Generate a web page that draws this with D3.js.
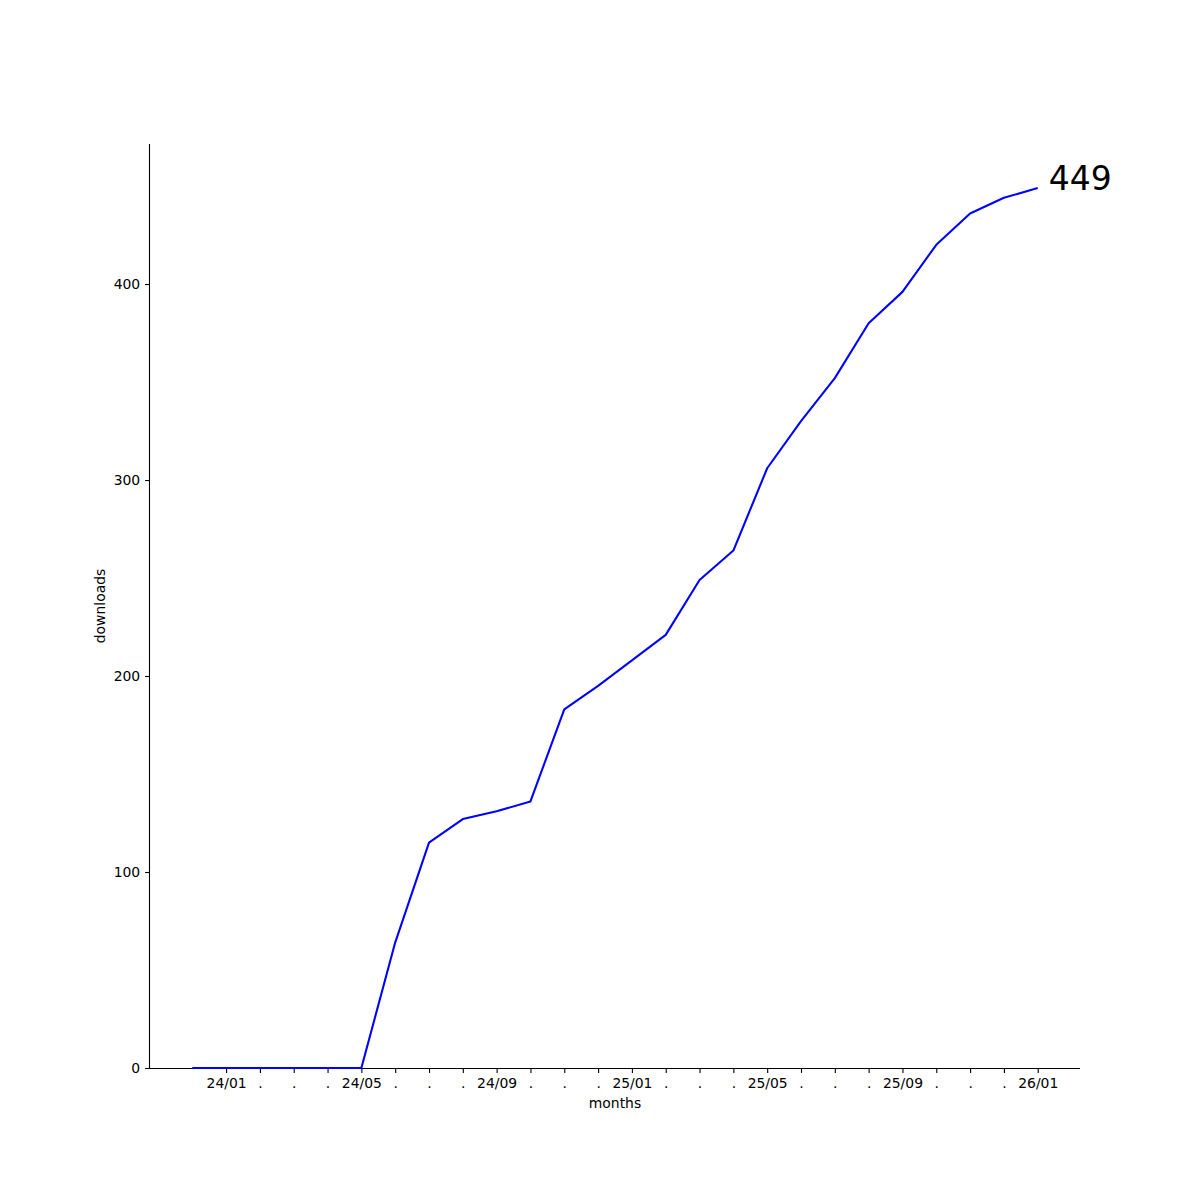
<!DOCTYPE html>
<html>
<head>
<meta charset="utf-8">
<script src="https://cdn.jsdelivr.net/npm/d3@7"></script>
<style>
  html, body { margin: 0; padding: 0; background: #fff; }
  text { font-family: "DejaVu Sans", sans-serif; }
</style>
</head>
<body>
<svg id="chart" width="1200" height="1200"></svg>
<script>
const months = ["23/12","24/01","24/02","24/03","24/04","24/05","24/06","24/07","24/08","24/09","24/10","24/11","24/12",
                "25/01","25/02","25/03","25/04","25/05","25/06","25/07","25/08","25/09","25/10","25/11","25/12","26/01"];
const downloads = [0,0,0,0,0,0,64,115,127,131,136,183,195,208,221,249,264,306,330,352,380,396,420,436,444,449];
const tickMonths = months.slice(1); // ticks from 24/01 to 26/01
const labeledMonths = ["24/01","24/05","24/09","25/01","25/05","25/09","26/01"];
const yTicks = [0,100,200,300,400];

const svg = d3.select("#chart");
const L = 150, R = 1080, T = 144, B = 1068;
const n = months.length;
const xPad = (n - 1) * 0.05;
const yMax = d3.max(downloads);
const x = d3.scaleLinear().domain([0 - xPad, (n - 1) + xPad]).range([L, R]);
const y = d3.scaleLinear().domain([0, yMax * 1.05]).range([B, T]);

const fs = "13.9px";

// x axis
const xAxis = d3.axisBottom(x)
  .tickValues(tickMonths.map(m => months.indexOf(m)))
  .tickFormat(i => labeledMonths.includes(months[i]) ? months[i] : ".")
  .tickSize(4.9).tickPadding(4.9).tickSizeOuter(0);
const gx = svg.append("g").attr("transform", `translate(0,${B})`).call(xAxis);
gx.select(".domain").attr("stroke", "#000").attr("stroke-width", 1.1).attr("d", `M${L},0.5H${R}`);
gx.selectAll(".tick line").attr("stroke", "#000").attr("stroke-width", 1.1);
gx.selectAll(".tick text").attr("fill", "#000").style("font-size", fs).style("font-family", "DejaVu Sans");

// y axis
const yAxis = d3.axisLeft(y).tickValues(yTicks).tickFormat(d3.format("d"))
  .tickSize(4.9).tickPadding(4.9).tickSizeOuter(0);
const gy = svg.append("g").attr("transform", `translate(${L},0)`).call(yAxis);
gy.select(".domain").attr("stroke", "#000").attr("stroke-width", 1.1).attr("d", `M-0.5,${T}V${B}`);
gy.selectAll(".tick line").attr("stroke", "#000").attr("stroke-width", 1.1);
gy.selectAll(".tick text").attr("fill", "#000").style("font-size", fs).style("font-family", "DejaVu Sans");

// axis labels
svg.append("text").attr("x", (L + R) / 2).attr("y", 1108).attr("text-anchor", "middle")
  .style("font-size", fs).text("months");
svg.append("text").attr("transform", `translate(105,${(T + B) / 2}) rotate(-90)`)
  .attr("text-anchor", "middle").style("font-size", fs).text("downloads");

// line
const line = d3.line().x((d, i) => x(i)).y(d => y(d));
svg.append("path").datum(downloads).attr("d", line)
  .attr("fill", "none").attr("stroke", "#0000ff").attr("stroke-width", 2.08)
  .attr("stroke-linejoin", "round").attr("stroke-linecap", "butt");

// annotation
const last = downloads[n - 1];
svg.append("text").attr("x", x(n - 1) + 11).attr("y", y(last) + 1.5)
  .style("font-size", "33px").attr("fill", "#000").text(last);
</script>
</body>
</html>
